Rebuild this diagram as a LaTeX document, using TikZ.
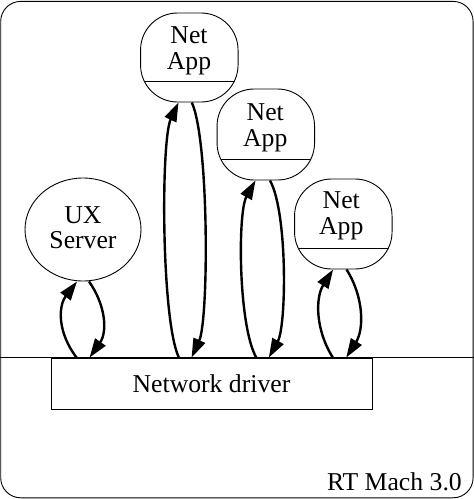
\documentclass[tikz,border=0pt]{standalone}
\usepackage{fontspec}
\setmainfont{Liberation Serif}
\usetikzlibrary{arrows.meta,shapes.geometric}
\begin{document}
\begin{tikzpicture}[x=1pt,y=-1pt,
  txt/.style={font=\fontsize{25.7}{27}\selectfont, inner sep=0pt, anchor=base},
  thin/.style={line width=0.9pt},
  appbox/.style={draw, thin, rounded corners=37pt, minimum width=97.5pt, minimum height=90pt, inner sep=0pt,
    path picture={\draw[thin] ([yshift=20.5pt]path picture bounding box.south west) -- ([yshift=20.5pt]path picture bounding box.south east);}},
  uxbox/.style={draw, thin, ellipse, minimum width=116pt, minimum height=103pt, inner sep=0pt},
  drvbox/.style={draw, thin, minimum width=321pt, minimum height=51pt, inner sep=0pt, font=\fontsize{25.7}{27}\selectfont},
  framebox/.style={draw, thin, rounded corners=20pt, minimum width=472.4pt, minimum height=496.4pt, inner sep=0pt},
  conn/.style={line width=2.4pt, -{Triangle[length=19pt,width=12.5pt]}}
]
\useasboundingbox (0,0) rectangle (474,499);
\node[framebox] (frame) at (236.9,249.6) {};

% boxes
\node[appbox, minimum height=89pt] (app1) at (189.3,57.5) {};
\node[appbox, minimum height=91pt] (app2) at (265.8,134.5) {};
\node[appbox, minimum height=90pt] (app3) at (343.3,224) {};
\node[uxbox] (ux) at (83,229.5) {};
\node[drvbox] (drv) at (211.5,383.5) {Network driver};

% horizontal line
\draw[thin] (frame.west |- drv.north) -- (frame.east |- drv.north);

% texts
\node[txt] (app1a) at (189,43) {Net};
\node[txt] (app1b) at (189,69.5) {App};
\node[txt] (app2a) at (265.3,120) {Net};
\node[txt] (app2b) at (265.3,146.5) {App};
\node[txt] (app3a) at (341.3,208.5) {Net};
\node[txt] (app3b) at (341.3,234.5) {App};
\node[txt] (uxa) at (83,223) {UX};
\node[txt] (uxb) at (83,248.8) {Server};
\node[txt, anchor=base east] (rt) at (462,490.5) {RT Mach 3.0};

% connectors: UX server
\draw[conn] ([xshift=26pt]drv.north west) .. controls +(-19,-25) and +(-19,25) .. ([xshift=-6pt]ux.south);
\draw[conn] ([xshift=6pt]ux.south) .. controls +(17.5,25) and +(17.5,-25) .. ([xshift=39pt]drv.north west);

% connectors: app1
\draw[conn] ([xshift=128.3pt]drv.north west) .. controls +(-17.7,-38) and +(-17.7,38) .. ([xshift=-10.8pt]app1.south);
\draw[conn] ([xshift=2.5pt]app1.south) .. controls +(17.3,38) and +(17.3,-38) .. ([xshift=141pt]drv.north west);

% connectors: app2
\draw[conn] ([xshift=205.7pt]drv.north west) .. controls +(-18,-32) and +(-18,32) .. ([xshift=-10.3pt]app2.south);
\draw[conn] ([xshift=4.2pt]app2.south) .. controls +(17.7,32) and +(17.7,-32) .. ([xshift=218.3pt]drv.north west);

% connectors: app3
\draw[conn] ([xshift=282.3pt]drv.north west) .. controls +(-17.7,-28) and +(-17.7,28) .. ([xshift=-10.2pt]app3.south);
\draw[conn] ([xshift=3.2pt]app3.south) .. controls +(17.7,28) and +(17.7,-28) .. ([xshift=295.7pt]drv.north west);
\end{tikzpicture}
\end{document}
